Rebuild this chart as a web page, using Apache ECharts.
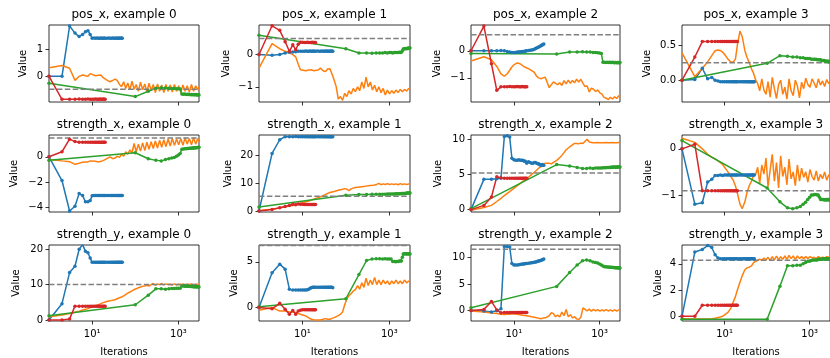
<!DOCTYPE html>
<html><head><meta charset="utf-8">
<script src="https://cdn.jsdelivr.net/npm/echarts@6/dist/echarts.min.js"></script>
<style>html,body{margin:0;padding:0;background:#fff}#c{width:830px;height:358px}</style>
</head><body><div id="c"></div>
<script>
// ---------- data ----------
const BLUE_X = [1,2,3,4,5,6,7,8,9,10,11,12,13,14,15,16,17,18,19,20,22,24,26,28,30,32,34,36,38,40,42,44,46,48,50];
const RED_X = [1,2,3,4,5,6,7,8,9,10,11,12,13,14,15,16,17,18,19,20];
const GREEN_X = [1,100,200,300,400,500,600,700,800,900,1000,1100,1200,1300,1400,1500,1600,1700,1800,1900,2000,2100,2200,2300,2400,2500,2600,2700,2800,2900,3000];
const ORANGE_X = [1,2,3,4,5,6,7,8,9,10,12,14,16,18,20,23,26,30,34,38,43,48,54,60,67,75,84,94,105,118,132,148,166,186,208,233,261,292,327,366,410,459,514,576,645,722,809,906,1015,1137,1273,1426,1597,1789,2004,2244,2514,2800,3000];
const X_TICKS = [10, 1000];
const X_MIN = 1, X_MAX = 3000;

const TITLES = ['pos_x, example 0','pos_x, example 1','pos_x, example 2','pos_x, example 3',
  'strength_x, example 0','strength_x, example 1','strength_x, example 2','strength_x, example 3',
  'strength_y, example 0','strength_y, example 1','strength_y, example 2','strength_y, example 3'];
const REF = [-0.48, 0.5, 0.59, 0.25, 1.48, 5.3, 5.19, -0.91, 10.0, 6.8, 11.6, 4.28];
const Y_MIN = [-0.95, -1.47, -1.89, -0.31, -4.35, -0.36, -0.34, -1.37, -0.3, -1.49, -2.0, -0.36];
const Y_MAX = [1.9, 0.915, 0.95, 0.786, 1.72, 27.2, 10.6, 0.30, 21.2, 6.85, 12.4, 5.44];
const Y_TICKS = [[0,1],[-1,0],[-1,0],[0,0.5],[-4,-2,0],[0,10,20],[0,5,10],[-1,0],[0,10,20],[0,5],[0,5,10],[0,2,4]];
const Y_DEC = [0,0,0,1,0,0,0,0,0,0,0,0];

const pos_x_0_blue = [0,0,1.86,1.6,1.47,1.55,1.65,1.69,1.55,1.41, 1.42,1.41,1.42,1.41,1.41,1.42,1.41,1.41,1.42,1.41, 1.41,1.42,1.41,1.41,1.42,1.41,1.41,1.42,1.41,1.41,1.42,1.41,1.41,1.42,1.41];
const pos_x_0_red = [0,-0.85,-0.85,-0.85,-0.84,-0.85,-0.85,-0.84,-0.85,-0.85,-0.85,-0.84,-0.85,-0.85,-0.84,-0.85,-0.85,-0.84,-0.85,-0.85];
const pos_x_0_green = [-0.26,-0.75,-0.55,-0.44,-0.42,-0.43,-0.44,-0.45,-0.45,-0.46,-0.46,-0.47,-0.65,-0.66,-0.65,-0.67,-0.66,-0.67,-0.66,-0.68,-0.67,-0.68,-0.67,-0.68,-0.68,-0.67,-0.68,-0.69,-0.68,-0.68,-0.69];
const pos_x_0_orange = [0.32,0.40,0.30,-0.15,0.0,0.05,0.02,0.0,0.1,0.12, 0.02,0.04,0.05,-0.05,-0.12, -0.16,-0.2,-0.15,-0.1,-0.15,-0.3,-0.38,-0.2,-0.45,-0.25, -0.5,-0.18,-0.48,-0.3,-0.55,-0.22,-0.5,-0.28,-0.58,-0.25, -0.52,-0.3,-0.6,-0.28,-0.55,-0.32,-0.6,-0.3,-0.55,-0.32, -0.58,-0.3,-0.55,-0.35,-0.6,-0.32,-0.55,-0.35,-0.58,-0.3, -0.55,-0.35,-0.5,-0.4];

const pos_x_1_blue = [0,-0.02,0.0,0.05,0.07,0.08,0.09,0.1,0.1,0.1, 0.1,0.11,0.1,0.1,0.11,0.1,0.1,0.11,0.1,0.1, 0.11,0.1,0.1,0.11,0.1,0.1,0.11,0.1,0.11,0.1,0.1,0.11,0.1,0.11,0.1];
const pos_x_1_red = [0,0.89,0.75,0.4,0.1,0.3,0.15,0.32,0.38,0.38,0.37,0.37,0.38,0.37,0.37,0.37,0.38,0.37,0.37,0.37];
const pos_x_1_green = [0.6,0.18,0.05,0.05,0.04,0.05,0.05,0.05,0.06,0.05,0.06,0.06,0.05,0.06,0.06,0.06,0.06,0.07,0.06,0.07,0.12,0.17,0.18,0.18,0.19,0.18,0.19,0.2,0.19,0.2,0.2];
const pos_x_1_orange = [-0.42,0.34,0.18,0.1,0.05,0.0,-0.07,-0.3,-0.47,-0.5, -0.5,-0.48,-0.47,-0.5,-0.53, -0.48,-0.42,-0.5,-0.53,-0.45,-0.44,-0.6,-0.8,-1.0,-1.38, -1.3,-1.42,-1.2,-1.3,-1.12,-1.22,-1.05,-1.15,-1.0,-1.12, -0.85,-1.05,-0.7,-1.0,-0.85,-1.1,-0.95,-1.15,-1.0,-1.18, -1.05,-1.25,-1.1,-1.22,-1.12,-1.2,-1.1,-1.18,-1.08,-1.15, -1.08,-1.13,-1.05,-1.08];

const pos_x_2_blue = [0,0,0,0,0.01,0,-0.03,-0.05,-0.06,-0.06, -0.06,-0.05,-0.05,-0.04,-0.04,-0.03,-0.03,-0.02,-0.01,0, 0.01,0.02,0.03,0.04,0.06,0.08,0.1,0.12,0.14,0.16,0.18,0.2,0.21,0.23,0.25];
const pos_x_2_red = [0,0.91,-0.48,-1.46,-1.33,-1.33,-1.33,-1.32,-1.33,-1.33,-1.33,-1.32,-1.33,-1.33,-1.33,-1.32,-1.33,-1.33,-1.33,-1.33];
const pos_x_2_green = [-0.1,-0.12,-0.05,-0.05,-0.04,-0.05,-0.05,-0.06,-0.06,-0.07,-0.08,-0.1,-0.42,-0.42,-0.43,-0.42,-0.43,-0.42,-0.43,-0.43,-0.42,-0.43,-0.44,-0.43,-0.43,-0.44,-0.43,-0.44,-0.43,-0.44,-0.43];
const pos_x_2_orange = [-0.38,-0.22,-0.33,-0.58,-0.85,-0.94,-0.85,-0.72,-0.6,-0.52, -0.45,-0.48,-0.55,-0.6,-0.62, -0.68,-0.73,-0.8,-0.94,-1.0,-1.03,-1.0,-0.98,-1.05,-1.36, -1.25,-1.15,-1.2,-1.25,-1.18,-1.28,-1.1,-1.22,-1.08,-1.2, -1.1,-1.18,-1.05,-1.15,-1.05,-1.2,-1.32,-1.3,-1.52,-1.38, -1.42,-1.5,-1.45,-1.55,-1.6,-1.72,-1.75,-1.8,-1.72,-1.78, -1.7,-1.76,-1.66,-1.7];

const pos_x_3_blue = [0,0.01,0.17,0.02,0.04,0.0,-0.01,-0.02,-0.02,-0.02, -0.02,-0.02,-0.02,-0.02,-0.02,-0.02,-0.02,-0.02,-0.02,-0.02, -0.02,-0.02,-0.02,-0.02,-0.02,-0.02,-0.02,-0.02,-0.02,-0.02,-0.02,-0.02,-0.02,-0.02,-0.02];
const pos_x_3_red = [0,0.33,0.55,0.55,0.55,0.55,0.55,0.55,0.55,0.55,0.55,0.55,0.55,0.55,0.55,0.55,0.55,0.55,0.55,0.55];
const pos_x_3_green = [0,0.24,0.35,0.34,0.33,0.33,0.32,0.32,0.31,0.31,0.31,0.3,0.3,0.3,0.3,0.29,0.29,0.29,0.29,0.28,0.28,0.28,0.28,0.27,0.27,0.27,0.27,0.27,0.26,0.27,0.26];
const pos_x_3_orange = [0.39,0.05,0.17,0.26,0.35,0.42,0.43,0.42,0.4,0.37, 0.3,0.26,0.26,0.3,0.5, 0.7,0.62,0.42,0.32,0.25,0.16,0.1,0.0,-0.05,-0.15, 0.02,-0.14,-0.2,-0.02,-0.24,0.04,-0.12,-0.26,-0.06,0.0, -0.2,-0.1,-0.27,0.02,-0.15,-0.22,0.0,-0.08,-0.25,-0.03, -0.12,0.03,-0.06,-0.1,0.02,-0.04,-0.11,0.02,-0.07,-0.01, -0.09,0.01,-0.05,-0.02];

const strength_x_0_blue = [0,-1.87,-4.27,-3.9,-2.9,-3.05,-3.55,-3.55,-3.45,-3.07, -3.05,-3.05,-3.05,-3.05,-3.05,-3.05,-3.05,-3.05,-3.05,-3.05, -3.05,-3.05,-3.05,-3.05,-3.05,-3.05,-3.05,-3.05,-3.05,-3.05,-3.05,-3.05,-3.05,-3.05,-3.05];
const strength_x_0_red = [0,0.4,1.39,1.2,1.15,1.15,1.15,1.15,1.15,1.15,1.15,1.15,1.15,1.15,1.15,1.15,1.15,1.15,1.15,1.15];
const strength_x_0_green = [-0.27,0.32,-0.15,-0.28,-0.32,-0.22,-0.15,-0.1,-0.05,0.05,0.15,0.27,0.6,0.62,0.63,0.64,0.65,0.66,0.67,0.68,0.68,0.69,0.7,0.7,0.71,0.72,0.72,0.73,0.74,0.74,0.75];
const strength_x_0_orange = [-0.21,-0.32,-0.38,-0.59,-0.5,-0.42,-0.4,-0.4,-0.32,-0.27, -0.35,-0.4,-0.35,-0.3,-0.25, -0.1,0.0,-0.15,-0.1,0.05,-0.05,0.2,0.05,0.4,0.2, 0.55,0.3,1.05,0.4,1.0,0.45,1.1,0.5,1.15,0.6, 1.2,0.65,1.25,0.7,1.3,0.75,1.35,0.8,1.4,0.85, 1.45,0.9,1.4,0.95,1.45,0.9,1.5,1.0,1.45,0.95, 1.5,1.0,1.45,1.2];

const strength_x_1_blue = [0,20.6,25.5,26.6,26.6,26.6,26.7,26.6,26.6,26.6, 26.6,26.6,26.6,26.6,26.6,26.6,26.6,26.6,26.6,26.6, 26.6,26.6,26.6,26.6,26.6,26.6,26.6,26.6,26.6,26.6,26.6,26.6,26.6,26.6,26.6];
const strength_x_1_red = [0,0.5,1.2,1.6,2.0,2.4,2.2,2.5,2.4,2.4,2.35,2.3,2.3,2.35,2.3,2.3,2.3,2.35,2.3,2.3];
const strength_x_1_green = [1.4,5.6,5.9,5.9,6.0,6.0,6.0,6.0,6.0,6.05,6.05,6.1,6.1,6.1,6.15,6.15,6.2,6.2,6.2,6.25,6.25,6.3,6.3,6.3,6.35,6.35,6.4,6.4,6.4,6.45,6.45];
const strength_x_1_orange = [0.2,0.6,1.1,1.5,1.8,2.0,2.3,2.5,2.8,3.0, 3.3,3.6,3.9,4.2,4.4, 4.8,5.1,5.5,5.9,6.3,6.6,6.8,7.0,7.2,7.4, 7.6,7.8,8.0,7.8,7.3,7.9,8.2,8.4,8.5,8.6, 8.7,8.8,8.9,9.0,9.1,9.2,9.3,9.5,9.9,9.4, 9.7,9.5,9.8,9.5,9.7,9.5,9.7,9.4,9.8,9.5, 9.7,9.5,9.7,9.6];

const strength_x_2_blue = [0,4.3,4.3,4.4,4.5,10.4,10.5,10.3,7.3,7.1, 7.0,7.0,7.1,7.0,7.0,7.0,6.9,6.9,6.8,6.6, 6.8,6.7,6.6,6.6,6.7,6.7,6.6,6.5,6.5,6.4,6.3,6.3,6.4,6.3,6.3];
const strength_x_2_red = [0,0.6,1.8,4.67,4.5,4.45,4.45,4.45,4.45,4.45,4.45,4.45,4.45,4.45,4.45,4.45,4.45,4.45,4.45,4.45];
const strength_x_2_green = [0.15,6.4,6.2,6.0,5.85,5.85,5.9,5.85,5.9,5.9,5.9,5.9,5.95,5.95,5.95,6.0,6.0,6.0,6.0,6.05,6.0,6.05,6.05,6.05,6.0,6.05,6.05,6.05,6.05,6.05,6.05];
const strength_x_2_orange = [-0.1,0.3,0.6,1.15,1.6,2.0,2.3,2.55,2.8,3.0, 3.4,3.7,4.0,4.2,4.4, 4.7,5.0,5.3,5.6,5.9,6.1,6.4,6.6,6.7,6.6, 6.5,6.7,6.9,7.1,7.4,7.7,8.1,8.5,8.75,9.0, 9.2,9.4,9.4,9.35,9.45,9.4,9.7,10.0,9.6,9.55, 9.5,9.5,9.55,9.5,9.5,9.5,9.55,9.5,9.5,9.55, 9.5,9.5,9.55,9.5];

const strength_x_3_blue = [0,-1.2,-1.17,-0.72,-0.66,-0.58,-0.58,-0.57,-0.58,-0.57, -0.57,-0.57,-0.57,-0.57,-0.57,-0.57,-0.57,-0.57,-0.57,-0.57, -0.57,-0.57,-0.57,-0.57,-0.57,-0.57,-0.57,-0.57,-0.57,-0.57,-0.57,-0.57,-0.57,-0.57,-0.57];
const strength_x_3_red = [0,0.1,-0.91,-0.91,-0.91,-0.91,-0.91,-0.91,-0.91,-0.91,-0.91,-0.91,-0.91,-0.91,-0.91,-0.91,-0.91,-0.91,-0.91,-0.91];
const strength_x_3_green = [0.18,-0.85,-1.15,-1.28,-1.3,-1.28,-1.25,-1.2,-1.16,-1.1,-1.05,-1.0,-1.0,-0.99,-0.99,-1.0,-1.0,-1.05,-1.1,-1.1,-1.1,-1.1,-1.11,-1.1,-1.11,-1.1,-1.11,-1.1,-1.1,-1.11,-1.1];
const strength_x_3_orange = [0.23,0.14,0.0,-0.12,-0.18,-0.22,-0.26,-0.3,-0.34,-0.4, -0.5,-0.6,-0.68,-0.8,-0.96, -1.2,-1.3,-1.15,-0.93,-0.8,-0.7,-0.58,-0.55,-0.4,-0.75, -0.35,-0.55,-0.2,-0.82,-0.45,-0.12,-0.7,-0.3,-0.85,-0.15, -0.6,-0.4,-0.78,-0.22,-0.65,-0.5,-0.8,-0.35,-0.7,-0.42, -0.62,-0.5,-0.72,-0.45,-0.6,-0.68,-0.48,-0.7,-0.55,-0.65, -0.5,-0.68,-0.56,-0.6];

const strength_y_0_blue = [0,4.6,13.4,15.2,20.0,21.3,19.4,19.0,17.5,16.3, 16.3,16.3,16.3,16.3,16.3,16.3,16.3,16.3,16.3,16.3, 16.3,16.3,16.3,16.3,16.3,16.3,16.3,16.3,16.3,16.3,16.3,16.3,16.3,16.3,16.3];
const strength_y_0_red = [0,0,0.3,3.9,3.85,3.9,3.85,3.9,3.85,3.9,3.85,3.9,3.85,3.9,3.85,3.9,3.85,3.9,3.85,3.9];
const strength_y_0_green = [1.2,4.3,7.0,8.8,8.8,8.7,8.8,8.9,8.9,9.0,9.0,9.0,9.6,9.6,9.5,9.5,9.5,9.5,9.5,9.45,9.45,9.45,9.4,9.4,9.4,9.4,9.4,9.4,9.35,9.4,9.35];
const strength_y_0_orange = [0.9,1.4,1.8,2.2,2.5,2.8,3.0,3.2,3.5,3.7, 4.0,4.3,4.6,4.9,5.1, 5.3,5.4,5.6,5.7,6.0,6.3,6.5,6.8,7.2,7.6, 7.9,8.2,8.6,8.8,9.1,9.3,9.5,9.6,9.8,9.6, 10.0,10.3,9.8,10.2,10.0,10.3,9.9,10.2,10.0,10.1, 9.9,10.2,9.9,10.1,10.0,10.2,9.9,10.1,10.0,10.2, 9.9,10.1,10.0,10.1];

const strength_y_1_blue = [0,3.8,4.75,4.2,2.0,1.9,1.9,1.9,1.9,1.9, 1.9,1.9,1.95,2.0,2.1,2.15,2.2,2.2,2.2,2.2, 2.2,2.2,2.2,2.2,2.2,2.2,2.2,2.2,2.2,2.2,2.2,2.2,2.2,2.2,2.15];
const strength_y_1_red = [0,-0.15,0.45,-0.2,-0.75,-0.35,-0.75,-0.4,-0.3,-0.25,-0.25,-0.25,-0.25,-0.25,-0.25,-0.25,-0.25,-0.25,-0.25,-0.25];
const strength_y_1_green = [0.07,0.95,3.6,5.15,5.3,5.35,5.35,5.3,5.35,5.3,5.3,5.3,5.05,5.05,5.0,5.05,5.05,5.1,5.1,5.1,5.5,5.85,5.9,5.9,5.85,5.9,5.9,5.85,5.9,5.9,5.85];
const strength_y_1_orange = [-0.3,0.0,-0.4,-0.4,-0.5,-0.5,-0.55,-0.65,-0.75,-0.8, -0.95,-1.15,-1.3,-1.35,-1.35, -1.38,-1.38,-1.3,-1.23,-1.3,-1.3,-1.2,-1.12,-1.0,-0.9, -0.75,-0.5,0.3,0.9,1.3,1.5,1.8,1.95,2.4,2.0, 2.7,2.2,3.2,2.4,3.0,2.5,3.3,2.5,3.0,2.5, 3.0,2.6,2.9,2.5,2.9,2.6,3.0,2.6,2.9,2.6, 3.0,2.7,2.9,2.8];

const strength_y_2_blue = [0,-0.1,-0.3,-0.05,0.3,12.1,12.1,12.0,8.9,8.6, 8.6,8.6,8.65,8.7,8.75,8.8,8.8,8.85,8.9,8.9, 8.95,9.0,9.05,9.1,9.15,9.2,9.25,9.3,9.35,9.4,9.45,9.5,9.6,9.65,9.75];
const strength_y_2_red = [0,0.2,1.7,0.1,-0.45,-0.38,-0.38,-0.38,-0.38,-0.38,-0.38,-0.38,-0.38,-0.38,-0.38,-0.38,-0.38,-0.38,-0.38,-0.38];
const strength_y_2_green = [0.5,4.56,7.2,8.6,9.4,9.55,9.4,9.2,9.1,9.0,8.8,8.6,8.4,8.3,8.3,8.25,8.25,8.2,8.2,8.2,8.15,8.15,8.15,8.1,8.1,8.1,8.1,8.1,8.05,8.05,8.05];
const strength_y_2_orange = [-0.12,-0.3,-0.5,-0.6,-0.7,-0.75,-0.72,-0.7,-0.65,-0.62, -0.7,-0.8,-0.9,-0.95,-1.05, -1.1,-1.2,-1.3,-1.4,-1.5,-1.56,-1.45,-1.4,-1.38,-1.0, -0.4,-0.6,-1.2,-0.9,-1.25,-0.3,-1.0,0.2,-1.2,-0.8, -1.4,-1.2,-1.6,-1.7,-1.3,0.5,0.2,-0.1,0.25,-0.15, 0.2,-0.1,0.15,-0.15,0.1,-0.1,0.15,-0.1,0.1,-0.15, 0.1,-0.1,0.1,0.0];

const strength_y_3_blue = [0,4.9,5.1,5.4,5.25,4.7,4.45,4.4,4.4,4.4, 4.4,4.4,4.4,4.4,4.4,4.4,4.4,4.4,4.4,4.4, 4.4,4.4,4.4,4.4,4.4,4.4,4.4,4.4,4.4,4.4,4.4,4.4,4.4,4.4,4.4];
const strength_y_3_red = [0,0,0.84,0.84,0.84,0.84,0.84,0.84,0.84,0.84,0.84,0.84,0.84,0.84,0.84,0.84,0.84,0.84,0.84,0.84];
const strength_y_3_green = [-0.23,-0.23,2.3,3.85,3.85,3.9,3.9,4.0,4.1,4.2,4.2,4.25,4.3,4.3,4.3,4.3,4.35,4.35,4.35,4.35,4.35,4.4,4.4,4.4,4.4,4.4,4.4,4.4,4.4,4.4,4.4];
const strength_y_3_orange = [-0.18,-0.2,-0.2,-0.2,-0.18,-0.15,-0.1,-0.05,0.0,0.08, 0.3,0.6,1.1,1.5,2.0, 2.6,3.1,3.55,3.7,3.75,3.85,4.1,4.2,4.3,4.35, 4.3,4.45,4.3,4.5,4.25,4.55,4.3,4.6,4.3,4.55, 4.35,4.6,4.35,4.65,4.4,4.6,4.35,4.6,4.4,4.55, 4.4,4.55,4.4,4.55,4.45,4.5,4.4,4.55,4.45,4.5, 4.45,4.55,4.45,4.5];

// ---------- layout / style ----------
const COL_LEFT = [49, 259, 471, 682];
const COL_W = [150, 151, 149, 148];
const ROW_TOP = [25, 135, 245];
const PLOT_H = 77;
const NAME_GAP = [21,28,29,30, 30,26,28,29, 28,20,28,19];
const FONT = 'DejaVu Sans';
const C_BLUE = '#1f77b4', C_ORANGE = '#ff7f0e', C_GREEN = '#2ca02c', C_RED = '#d62728';

const PANELS = [
  [pos_x_0_blue, pos_x_0_orange, pos_x_0_green, pos_x_0_red],
  [pos_x_1_blue, pos_x_1_orange, pos_x_1_green, pos_x_1_red],
  [pos_x_2_blue, pos_x_2_orange, pos_x_2_green, pos_x_2_red],
  [pos_x_3_blue, pos_x_3_orange, pos_x_3_green, pos_x_3_red],
  [strength_x_0_blue, strength_x_0_orange, strength_x_0_green, strength_x_0_red],
  [strength_x_1_blue, strength_x_1_orange, strength_x_1_green, strength_x_1_red],
  [strength_x_2_blue, strength_x_2_orange, strength_x_2_green, strength_x_2_red],
  [strength_x_3_blue, strength_x_3_orange, strength_x_3_green, strength_x_3_red],
  [strength_y_0_blue, strength_y_0_orange, strength_y_0_green, strength_y_0_red],
  [strength_y_1_blue, strength_y_1_orange, strength_y_1_green, strength_y_1_red],
  [strength_y_2_blue, strength_y_2_orange, strength_y_2_green, strength_y_2_red],
  [strength_y_3_blue, strength_y_3_orange, strength_y_3_green, strength_y_3_red]
];

function zip(xs, ys) {
  const n = Math.min(xs.length, ys.length);
  const out = [];
  for (let i = 0; i < n; i++) out.push([xs[i], ys[i]]);
  return out;
}
const SUP = {'0':'⁰','1':'¹','2':'²','3':'³','4':'⁴'};
const lg = v => Math.round(Math.log10(v) * 1e9) / 1e9;
const X_TICK_EXP = X_TICKS.map(lg);

const grids = [], xAxes = [], yAxes = [], series = [], titles = [];
const tickLine = {color: '#000', width: 0.8};
const txt = {fontFamily: FONT, fontSize: 10, color: '#000'};

PANELS.forEach((p, i) => {
  const r = Math.floor(i / 4), c = i % 4;
  grids.push({left: COL_LEFT[c], top: ROW_TOP[r], width: COL_W[c], height: PLOT_H,
    show: true, borderColor: '#000', borderWidth: 0.8, backgroundColor: 'transparent'});
  titles.push({text: TITLES[i], left: COL_LEFT[c] + COL_W[c] / 2, top: ROW_TOP[r] - 16,
    textAlign: 'center', padding: 0,
    textStyle: {fontFamily: FONT, fontSize: 12, fontWeight: 'normal', color: '#000'}});
  xAxes.push({gridIndex: i, type: 'log', logBase: 10, min: X_MIN, max: X_MAX, show: false,
    axisLine: {onZero: false}});
  xAxes.push({gridIndex: i, type: 'value', min: lg(X_MIN), max: lg(X_MAX), position: 'bottom',
    axisLine: {show: false, onZero: false}, splitLine: {show: false},
    axisTick: {show: true, length: 3.5, customValues: X_TICK_EXP, lineStyle: tickLine},
    axisLabel: {show: r === 2, customValues: X_TICK_EXP, margin: 8, ...txt,
      formatter: v => '10' + (SUP[String(Math.round(v))] || '')},
    name: r === 2 ? 'Iterations' : '', nameLocation: 'middle', nameGap: 26, nameTextStyle: txt});
  const dec = Y_DEC[i];
  yAxes.push({gridIndex: i, type: 'value', min: Y_MIN[i], max: Y_MAX[i],
    axisLine: {show: false, onZero: false}, splitLine: {show: false},
    axisTick: {show: true, length: 3.5, customValues: Y_TICKS[i], lineStyle: tickLine},
    axisLabel: {customValues: Y_TICKS[i], margin: 6, ...txt,
      formatter: v => (dec ? v.toFixed(dec) : String(Math.round(v))).replace('-', '\u2212')},
    name: 'Value', nameLocation: 'middle', nameGap: NAME_GAP[i], nameTextStyle: txt});
  const xi = 2 * i, yi = i;
  const mk = (xs, ys, color, marker) => ({type: 'line', xAxisIndex: xi, yAxisIndex: yi,
    data: zip(xs, ys), smooth: false, animation: false, silent: true,
    symbol: marker ? 'circle' : 'none', symbolSize: 3.5, showSymbol: marker,
    itemStyle: {color: color}, lineStyle: {color: color, width: 1.5}});
  series.push(mk(BLUE_X, p[0], C_BLUE, true));
  series.push(mk(ORANGE_X, p[1], C_ORANGE, false));
  series.push(mk(GREEN_X, p[2], C_GREEN, true));
  series.push(mk(RED_X, p[3], C_RED, true));
  series.push({type: 'line', xAxisIndex: xi, yAxisIndex: yi, animation: false, silent: true,
    data: [[X_MIN, REF[i]], [X_MAX, REF[i]]], symbol: 'none',
    lineStyle: {color: '#808080', width: 1.5, type: [5.5, 2.4]}});
});

const chart = echarts.init(document.getElementById('c'), null, {renderer: 'canvas'});
chart.setOption({
  animation: false,
  backgroundColor: '#fff',
  title: titles, grid: grids, xAxis: xAxes, yAxis: yAxes, series: series
});
</script>
</body></html>
